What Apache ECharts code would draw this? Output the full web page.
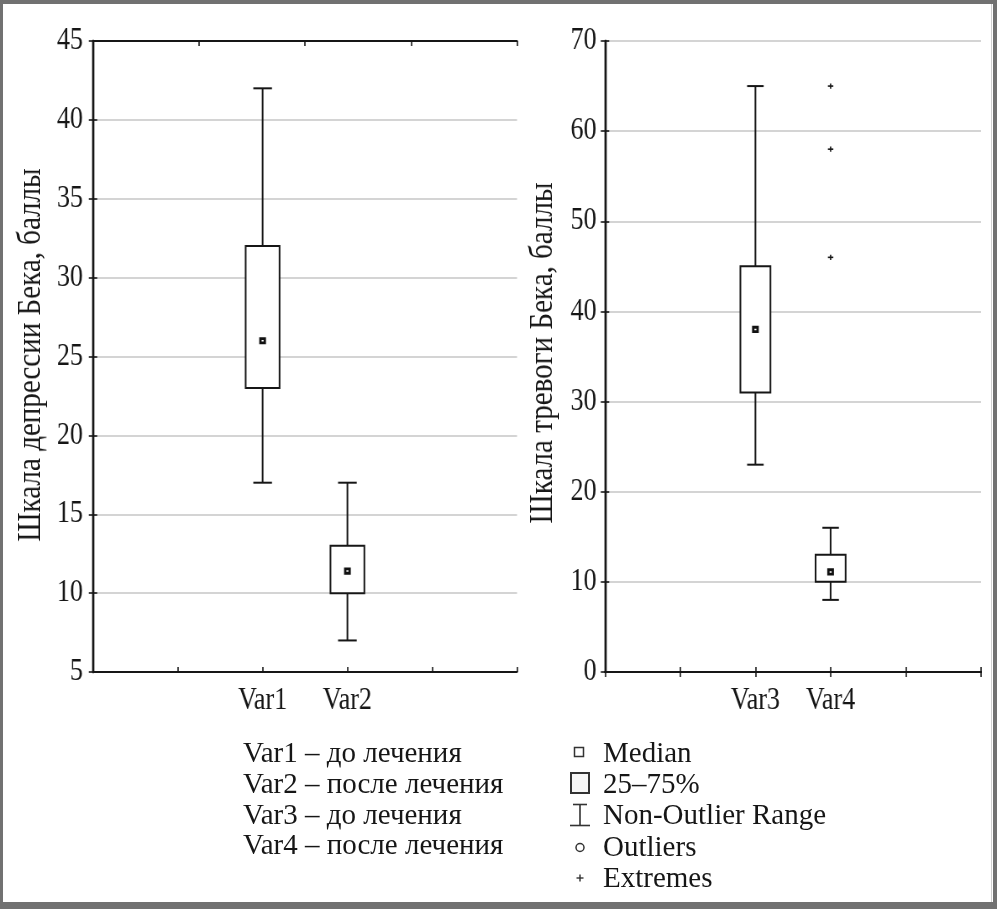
<!DOCTYPE html>
<html><head><meta charset="utf-8">
<script src="https://cdn.jsdelivr.net/npm/echarts@6/dist/echarts.min.js"></script>
<style>
html,body{margin:0;padding:0;background:#fff;overflow:hidden}
#wrap{position:relative;width:997px;height:909px;overflow:hidden;background:#fff}
#main{position:absolute;left:0;top:0;height:909px;transform-origin:0 0}
#titles{position:absolute;left:0;top:0;width:997px;transform-origin:0 0;pointer-events:none}
#over{position:absolute;left:0;top:0;width:997px;height:909px;pointer-events:none}
</style></head><body>
<div id="wrap"><div id="main"></div><div id="titles"></div><div id="over"></div></div>
<script>
// ---------- data ----------
const leftTicks = ['', '', 'Var1', 'Var2', '', ''];
const rightTicks = ['', '', 'Var3', 'Var4', '', ''];
// [non-outlier min, 25%, median, 75%, non-outlier max]
const var1Box = [17, 23, 26, 32, 42];
const var2Box = [7, 10, 11.4, 13, 17];
const var3Box = [23, 31, 38, 45, 65];
const var4Box = [8, 10, 11.1, 13, 16];
const var4Extremes = [46, 58, 65];
const leftAxisName = 'Шкала депрессии Бека, баллы';
const rightAxisName = 'Шкала тревоги Бека, баллы';
const varLegend = ['Var1 – до лечения', 'Var2 – после лечения', 'Var3 – до лечения', 'Var4 – после лечения'];
const markLegend = ['Median', '25–75%', 'Non-Outlier Range', 'Outliers', 'Extremes'];

// ---------- layout ----------
const W = 997, H = 909;
const IW = 1187;            // internal width, horizontally condensed to W
const K = W / IW;
const sx = x => x / K;
const KY = 0.88;            // vertical condensing for the rotated axis titles
const FONT = '"Liberation Serif", "Times New Roman", serif';
const INK = '#161616';

const mainDiv = document.getElementById('main');
mainDiv.style.width = IW + 'px';
mainDiv.style.transform = 'scaleX(' + K + ')';
const titlesDiv = document.getElementById('titles');
const TH = Math.round(H / KY);
titlesDiv.style.height = TH + 'px';
titlesDiv.style.transform = 'scaleY(' + (H / TH) + ')';

function boxRender(params, api) {
  const x = api.value(0);
  const lo = api.coord([x, api.value(1)]);
  const q1 = api.coord([x, api.value(2)]);
  const md = api.coord([x, api.value(3)]);
  const q3 = api.coord([x, api.value(4)]);
  const hi = api.coord([x, api.value(5)]);
  const unit = api.size([1, 0])[0];
  const bw = unit * 0.4, cw = unit * 0.22;
  const ls = { stroke: INK, lineWidth: 2, fill: null };
  const mw = 5.2, mh = 4.4;
  return { type: 'group', children: [
    { type: 'line', shape: { x1: hi[0], y1: hi[1], x2: q3[0], y2: q3[1] }, style: ls },
    { type: 'line', shape: { x1: lo[0], y1: lo[1], x2: q1[0], y2: q1[1] }, style: ls },
    { type: 'line', shape: { x1: hi[0] - cw / 2, y1: hi[1], x2: hi[0] + cw / 2, y2: hi[1] }, style: ls },
    { type: 'line', shape: { x1: lo[0] - cw / 2, y1: lo[1], x2: lo[0] + cw / 2, y2: lo[1] }, style: ls },
    { type: 'rect', shape: { x: q3[0] - bw / 2, y: q3[1], width: bw, height: q1[1] - q3[1] }, style: { stroke: INK, lineWidth: 2, fill: '#fff' } },
    { type: 'rect', shape: { x: md[0] - mw / 2, y: md[1] - mh / 2, width: mw, height: mh }, style: { stroke: '#111', lineWidth: 2.8, fill: '#fff' } }
  ]};
}
function plusRender(params, api) {
  const p = api.coord([api.value(0), api.value(1)]);
  const a = 3.2, b = 2.6;
  const ls = { stroke: INK, lineWidth: 1.6 };
  return { type: 'group', children: [
    { type: 'line', shape: { x1: p[0] - a, y1: p[1], x2: p[0] + a, y2: p[1] }, style: ls },
    { type: 'line', shape: { x1: p[0], y1: p[1] - b, x2: p[0], y2: p[1] + b }, style: ls }
  ]};
}

const axLine = w => ({ show: true, lineStyle: { color: INK, width: w } });
const tickIn = { show: true, inside: true, length: 5, lineStyle: { color: INK, width: 1.6 } };
function xAxes(grid, ticks, topMax) {
  return [
    { gridIndex: grid, type: 'value', position: 'bottom', min: 0, max: 5, interval: 1, z: 5,
      axisLine: axLine(2), axisTick: tickIn, splitLine: { show: false },
      axisLabel: { fontSize: 31, fontFamily: FONT, color: INK, margin: 13, formatter: v => ticks[v] || '' } },
    { gridIndex: grid, type: 'value', position: 'top', min: 0, max: topMax, interval: 1, z: 5,
      axisLine: axLine(2), axisTick: tickIn, splitLine: { show: false }, axisLabel: { show: false } }
  ];
}
function yAxes(grid, min, max, step, margin) {
  return [
    { gridIndex: grid, type: 'value', position: 'left', min: min, max: max, interval: step,
      axisLine: axLine(2.4), axisTick: tickIn,
      splitLine: { show: true, lineStyle: { color: '#c6c6c6', width: 1.5 } },
      axisLabel: { fontSize: 31, fontFamily: FONT, color: INK, margin: margin } },
    { gridIndex: grid, type: 'value', position: 'right', min: min, max: max, interval: step,
      axisLine: axLine(2.4), axisTick: tickIn, splitLine: { show: false }, axisLabel: { show: false } }
  ];
}
const boxRow = (ticks, name, stats) => [ticks.indexOf(name)].concat(stats);

const mainChart = echarts.init(mainDiv, null, { renderer: 'canvas', width: IW, height: H });
mainChart.setOption({
  backgroundColor: '#fff',
  animation: false,
  grid: [
    { left: sx(93), top: 41, width: sx(517) - sx(93), height: 631 },
    { left: sx(605), top: 41, width: sx(981) - sx(605), height: 631 }
  ],
  xAxis: xAxes(0, leftTicks, 4).concat(xAxes(1, rightTicks, 5)),
  yAxis: yAxes(0, 5, 45, 5, 12).concat(yAxes(1, 0, 70, 10, 10)),
  series: [
    { type: 'custom', xAxisIndex: 0, yAxisIndex: 0, renderItem: boxRender, encode: { x: 0, y: [1, 2, 3, 4, 5] },
      data: [boxRow(leftTicks, 'Var1', var1Box), boxRow(leftTicks, 'Var2', var2Box)] },
    { type: 'custom', xAxisIndex: 2, yAxisIndex: 2, renderItem: boxRender, encode: { x: 0, y: [1, 2, 3, 4, 5] },
      data: [boxRow(rightTicks, 'Var3', var3Box), boxRow(rightTicks, 'Var4', var4Box)] },
    { type: 'custom', xAxisIndex: 2, yAxisIndex: 2, renderItem: plusRender, encode: { x: 0, y: 1 },
      data: var4Extremes.map(v => [rightTicks.indexOf('Var4'), v]) }
  ]
});

// ---------- rotated axis titles ----------
const titlesChart = echarts.init(titlesDiv, null, { renderer: 'canvas', width: W, height: TH });
titlesChart.setOption({
  backgroundColor: 'transparent',
  animation: false,
  graphic: [
    { type: 'text', x: 31, y: 355 / KY, rotation: Math.PI / 2,
      style: { text: leftAxisName, fontSize: 33, fontFamily: FONT, fill: INK, align: 'center', verticalAlign: 'middle' } },
    { type: 'text', x: 543, y: 353 / KY, rotation: Math.PI / 2,
      style: { text: rightAxisName, fontSize: 33, fontFamily: FONT, fill: INK, align: 'center', verticalAlign: 'middle' } }
  ]
});

// ---------- overlay: frame and legends ----------
const overChart = echarts.init(document.getElementById('over'), null, { renderer: 'canvas', width: W, height: H });
const frame = '#717171';
const legendY = [754.5, 785, 816, 846];
const markY = [754, 785, 816.5, 848, 879];
const mx = 579;
overChart.setOption({
  backgroundColor: 'transparent',
  animation: false,
  graphic: [
    { type: 'rect', shape: { x: 0, y: 0, width: W, height: 4 }, style: { fill: frame } },
    { type: 'rect', shape: { x: 0, y: 0, width: 3, height: H }, style: { fill: frame } },
    { type: 'rect', shape: { x: W - 4, y: 0, width: 4, height: H }, style: { fill: frame } },
    { type: 'rect', shape: { x: 0, y: H - 7, width: W, height: 7 }, style: { fill: frame } },
    { type: 'line', shape: { x1: W - 5.5, y1: 4, x2: W - 5.5, y2: H - 7 }, style: { stroke: '#cfcfcf', lineWidth: 1 } },
    // Median symbol
    { type: 'rect', shape: { x: mx - 4.5, y: markY[0] - 6.5, width: 9, height: 9 }, style: { stroke: '#333', lineWidth: 1.5, fill: '#fff' } },
    // 25-75% symbol
    { type: 'rect', shape: { x: 571, y: markY[1] - 12, width: 18, height: 20 }, style: { stroke: '#333', lineWidth: 2, fill: '#f7f7f7' } },
    // Non-outlier range symbol
    { type: 'line', shape: { x1: mx + 1, y1: markY[2] - 12, x2: mx + 1, y2: markY[2] + 9 }, style: { stroke: '#333', lineWidth: 1.6 } },
    { type: 'line', shape: { x1: 573, y1: markY[2] - 12, x2: 587, y2: markY[2] - 12 }, style: { stroke: '#333', lineWidth: 1.6 } },
    { type: 'line', shape: { x1: 570, y1: markY[2] + 9, x2: 590, y2: markY[2] + 9 }, style: { stroke: '#333', lineWidth: 1.6 } },
    // Outliers symbol
    { type: 'circle', shape: { cx: mx + 1, cy: markY[3] - 0.5, r: 4 }, style: { stroke: '#333', lineWidth: 1.5, fill: '#fff' } },
    // Extremes symbol
    { type: 'line', shape: { x1: mx - 2.5, y1: markY[4] - 1, x2: mx + 4.5, y2: markY[4] - 1 }, style: { stroke: '#333', lineWidth: 1.4 } },
    { type: 'line', shape: { x1: mx + 1, y1: markY[4] - 4.5, x2: mx + 1, y2: markY[4] + 2.5 }, style: { stroke: '#333', lineWidth: 1.4 } }
  ].concat(varLegend.map((t, i) => ({
    type: 'text', x: 243, y: legendY[i],
    style: { text: t, fontSize: 29, fontFamily: FONT, fill: INK, align: 'left', verticalAlign: 'middle' }
  }))).concat(markLegend.map((t, i) => ({
    type: 'text', x: 603, y: markY[i],
    style: { text: t, fontSize: 29, fontFamily: FONT, fill: INK, align: 'left', verticalAlign: 'middle' }
  })))
});
</script>
</body></html>
